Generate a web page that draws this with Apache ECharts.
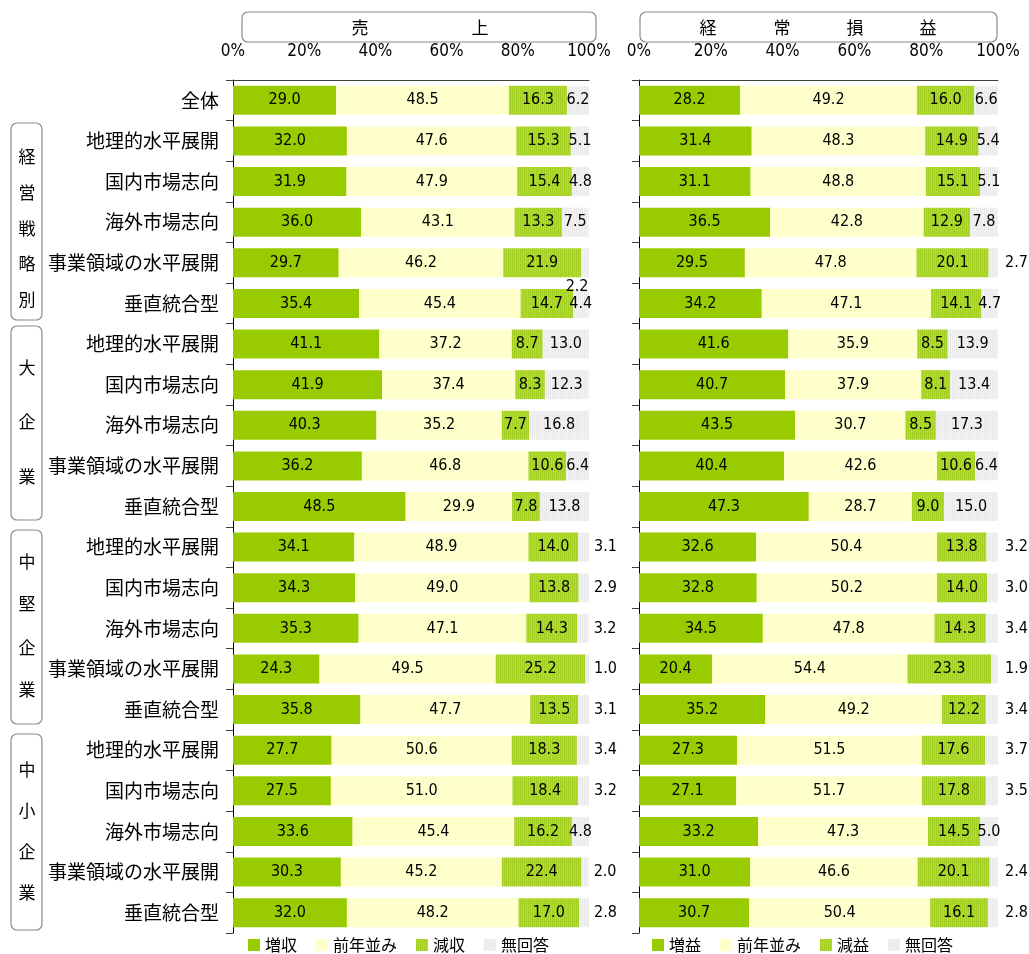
<!DOCTYPE html>
<html><head><meta charset="utf-8">
<script src="https://cdn.jsdelivr.net/npm/echarts@6/dist/echarts.min.js"></script>
<style>html,body{margin:0;padding:0;background:#fff}#c{width:1029px;height:954px}</style>
</head><body><div id="c"></div>
<script>
const categories = ['全体',
 '地理的水平展開','国内市場志向','海外市場志向','事業領域の水平展開','垂直統合型',
 '地理的水平展開','国内市場志向','海外市場志向','事業領域の水平展開','垂直統合型',
 '地理的水平展開','国内市場志向','海外市場志向','事業領域の水平展開','垂直統合型',
 '地理的水平展開','国内市場志向','海外市場志向','事業領域の水平展開','垂直統合型'];
const groups = ['経営戦略別','大企業','中堅企業','中小企業'];
const tickLabels = ['0%','20%','40%','60%','80%','100%'];

// 売上
const salesUp   = [29.0,32.0,31.9,36.0,29.7,35.4,41.1,41.9,40.3,36.2,48.5,34.1,34.3,35.3,24.3,35.8,27.7,27.5,33.6,30.3,32.0];
const salesFlat = [48.5,47.6,47.9,43.1,46.2,45.4,37.2,37.4,35.2,46.8,29.9,48.9,49.0,47.1,49.5,47.7,50.6,51.0,45.4,45.2,48.2];
const salesDown = [16.3,15.3,15.4,13.3,21.9,14.7,8.7,8.3,7.7,10.6,7.8,14.0,13.8,14.3,25.2,13.5,18.3,18.4,16.2,22.4,17.0];
const salesNA   = [6.2,5.1,4.8,7.5,2.2,4.4,13.0,12.3,16.8,6.4,13.8,3.1,2.9,3.2,1.0,3.1,3.4,3.2,4.8,2.0,2.8];
// 経常損益
const profUp   = [28.2,31.4,31.1,36.5,29.5,34.2,41.6,40.7,43.5,40.4,47.3,32.6,32.8,34.5,20.4,35.2,27.3,27.1,33.2,31.0,30.7];
const profFlat = [49.2,48.3,48.8,42.8,47.8,47.1,35.9,37.9,30.7,42.6,28.7,50.4,50.2,47.8,54.4,49.2,51.5,51.7,47.3,46.6,50.4];
const profDown = [16.0,14.9,15.1,12.9,20.1,14.1,8.5,8.1,8.5,10.6,9.0,13.8,14.0,14.3,23.3,12.2,17.6,17.8,14.5,20.1,16.1];
const profNA   = [6.6,5.4,5.1,7.8,2.7,4.7,13.9,13.4,17.3,6.4,15.0,3.2,3.0,3.4,1.9,3.4,3.7,3.5,5.0,2.4,2.8];

const leftNames  = ['増収','前年並み','減収','無回答'];
const rightNames = ['増益','前年並み','減益','無回答'];

function stripe(c1, c2, w1, w2){
  const cv = document.createElement('canvas');
  cv.width = w1 + w2; cv.height = 2;
  const ctx = cv.getContext('2d');
  ctx.fillStyle = c1; ctx.fillRect(0,0,w1,2);
  ctx.fillStyle = c2; ctx.fillRect(w1,0,w2,2);
  return {image: cv, repeat: 'repeat'};
}
const cUp = '#99CC00', cFlat = '#FFFFCC';
const cDown = stripe('#a3d022', '#b1d846', 1, 1);
const cNA = stripe('#e9e9e9', '#f3f3f3', 1, 1);
const numFont = "'DejaVu Sans Condensed','Liberation Sans',sans-serif";
const jpFont = "'Noto Sans CJK JP',sans-serif";

const chart = echarts.init(document.getElementById('c'), null, {renderer:'canvas'});
const grids = [
  {left:233, top:80, width:356, height:853},
  {left:639, top:80, width:359, height:853}
];
const idx = categories.map((c,i)=>String(i));
function xAx(gi){
  return {gridIndex:gi, type:'value', position:'top', min:0, max:100, interval:20,
    axisLine:{show:true, lineStyle:{color:'#404040', width:1}},
    axisTick:{show:false}, splitLine:{show:false},
    axisLabel:{margin:20, color:'#000', fontSize:17, fontFamily:numFont,
      formatter:(v)=>tickLabels[Math.round(v/20)]}};
}
function yAx(gi, showLabel){
  return {gridIndex:gi, type:'category', inverse:true, data:idx,
    axisLine:{show:true, lineStyle:{color:'#000', width:1}},
    axisTick:{show:true, length:7, lineStyle:{color:'#404040'}},
    axisLabel:{show:showLabel, margin:14, color:'#000', fontSize:19, fontFamily:jpFont,
      formatter:(v)=>categories[+v]}};
}
function naData(arr, special, dist){
  return arr.map((v,i)=>{
    if (special && i === special.index) return {value:v, label:{position:'inside', offset:special.offset}};
    if (v < 4) return {value:v, label:{position:'right', distance:dist}};
    return v;
  });
}
const lbl = {show:true, position:'inside', color:'#000', fontSize:16, fontFamily:numFont,
  formatter:(p)=>p.value.toFixed(1)};
function mk(name, data, color, gi){
  return {type:'bar', name, data, xAxisIndex:gi, yAxisIndex:gi, stack:'s'+gi, barWidth:29,
    itemStyle:{color}, label:lbl, emphasis:{disabled:true}, animation:false};
}
const series = [
  mk(leftNames[0], salesUp, cUp, 0),
  mk(leftNames[1], salesFlat, cFlat, 0),
  mk(leftNames[2], salesDown, cDown, 0),
  mk(leftNames[3], naData(salesNA, {index:4, offset:[-8,24]}, 5), cNA, 0),
  mk(rightNames[0], profUp, cUp, 1),
  mk(rightNames[1], profFlat, cFlat, 1),
  mk(rightNames[2], profDown, cDown, 1),
  mk(rightNames[3], naData(profNA, null, 7), cNA, 1)
];

const graphic = [];
function titleBox(x, w, chars, xs){
  graphic.push({type:'rect', shape:{x:x, y:12, width:w, height:30, r:6},
    style:{fill:'none', stroke:'#8c8c8c', lineWidth:1.2}});
  chars.forEach((ch,i)=>graphic.push({type:'text', x:xs[i], y:28,
    style:{text:ch, fill:'#000', font:"17px 'Noto Sans CJK JP'", align:'center', verticalAlign:'middle'}}));
}
titleBox(242, 354, ['売','上'], [360,480]);
titleBox(640, 357, ['経','常','損','益'], [708,782,855,928]);
const boxes = [
  {y0:123, y1:320, ys:[157,193,229,264,300]},
  {y0:326, y1:520, ys:[368,422,477]},
  {y0:530, y1:724, ys:[562,604,648,690]},
  {y0:734, y1:930, ys:[770,811,852,893]}
];
boxes.forEach((b,gi)=>{
  graphic.push({type:'rect', shape:{x:11, y:b.y0, width:31, height:b.y1-b.y0, r:6},
    style:{fill:'none', stroke:'#8c8c8c', lineWidth:1.2}});
  groups[gi].split('').forEach((ch,i)=>graphic.push({type:'text', x:27, y:b.ys[i],
    style:{text:ch, fill:'#000', font:"17px 'Noto Sans CJK JP'", align:'center', verticalAlign:'middle'}}));
});

function legend(names, left){
  return {data:names, left:left, top:936, padding:0, itemWidth:12, itemHeight:12, itemGap:19, icon:'rect',
    selectedMode:false, textStyle:{fontSize:16, lineHeight:18, fontFamily:jpFont, color:'#000'}};
}

chart.setOption({
  animation:false,
  grid:grids,
  xAxis:[xAx(0), xAx(1)],
  yAxis:[yAx(0,true), yAx(1,false)],
  legend:[legend(leftNames, 248), legend(rightNames, 652)],
  series,
  graphic
});
</script></body></html>
